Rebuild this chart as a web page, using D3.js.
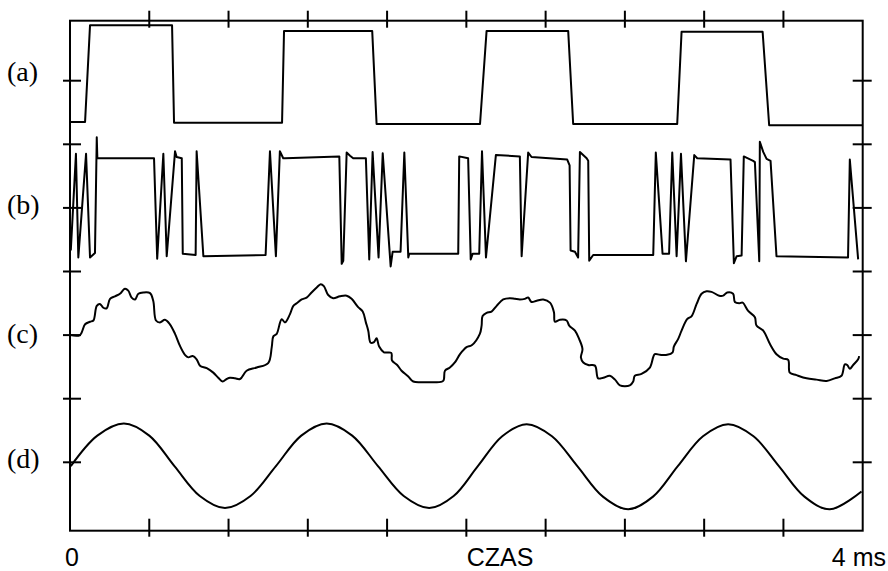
<!DOCTYPE html>
<html lang="pl">
<head>
    <meta charset="UTF-8">
    <title>Przebiegi (a)-(d)</title>
    <style>
        body {
            margin: 0;
            background: #fff;
        }

        .frame, .tick {
            stroke: #000;
            stroke-width: 2px;
            fill: none;
        }

        .trace {
            fill: none;
            stroke: #000;
            stroke-width: 2px;
            stroke-linejoin: round;
        }

        .chan {
            font: 28px "Liberation Serif", "Times New Roman", serif;
        }

        .xlab {
            font: 25px "Liberation Sans", Arial, sans-serif;
        }
    </style>
</head>
<body>
<div id="chart"></div>

<script src="https://d3js.org/d3.v7.min.js"></script>
<script>

    // time in ms, value in vertical divisions relative to each channel's zero line
    var channels = ["(a)", "(b)", "(c)", "(d)"]
    var xLabels = ["0", "CZAS", "4 ms"]

    var traceA = [
        [0, -0.65], [0.076, -0.65], [0.101, 0.87], [0.515, 0.87], [0.525, -0.66], [1.070, -0.66],
        [1.080, 0.78], [1.525, 0.78], [1.547, -0.68], [2.069, -0.68], [2.102, 0.78], [2.514, 0.78],
        [2.539, -0.68], [3.064, -0.68], [3.086, 0.77], [3.495, 0.77], [3.528, -0.70], [4.0, -0.70]
    ]

    var traceB = [
        [0.004, -0.67], [0.030, 0.85], [0.042, -0.78], [0.081, 0.85], [0.101, -0.78], [0.126, -0.71],
        [0.135, 1.11], [0.138, 0.78], [0.424, 0.78], [0.440, -0.80], [0.471, 0.85], [0.488, -0.76],
        [0.530, 0.89], [0.538, 0.80], [0.564, 0.78], [0.569, -0.72], [0.634, -0.74], [0.639, 0.89],
        [0.673, -0.76], [0.987, -0.74], [1.009, 0.89], [1.039, -0.76], [1.059, 0.89], [1.076, 0.78],
        [1.085, 0.78], [1.359, 0.81], [1.371, -0.88], [1.379, -0.83], [1.396, 0.87], [1.413, 0.82],
        [1.429, 0.78], [1.493, 0.78], [1.510, -0.81], [1.527, 0.88], [1.557, -0.78], [1.578, 0.86],
        [1.618, -0.92], [1.628, -0.69], [1.668, -0.69], [1.687, 0.87], [1.707, -0.78], [1.712, -0.72],
        [1.959, -0.72], [1.964, 0.81], [2.009, 0.78], [2.022, -0.81], [2.032, -0.72], [2.065, -0.72],
        [2.079, 0.89], [2.099, -0.78], [2.149, 0.83], [2.270, 0.81], [2.279, -0.76], [2.312, 0.87],
        [2.329, 0.80], [2.509, 0.76], [2.521, 0.67], [2.526, -0.67], [2.548, -0.69], [2.564, -0.78],
        [2.573, 0.88], [2.607, 0.78], [2.615, 0.74], [2.620, -0.83], [2.640, -0.74], [2.943, -0.74],
        [2.956, 0.87], [2.990, -0.72], [3.023, -0.72], [3.039, 0.87], [3.061, -0.76], [3.083, 0.85],
        [3.108, -0.84], [3.150, 0.83], [3.165, 0.78], [3.333, 0.76], [3.350, -0.87], [3.364, -0.76],
        [3.389, -0.75], [3.400, 0.81], [3.447, 0.74], [3.456, 0.72], [3.478, -0.84], [3.481, 1.04],
        [3.498, 0.88], [3.515, 0.77], [3.535, 0.74], [3.565, -0.76], [3.926, -0.78], [3.935, 0.76],
        [3.977, -0.81]
    ]

    var traceC = [
        [0.004, 0], [0.050, 0], [0.076, 0.17], [0.101, 0.21], [0.118, 0.23], [0.135, 0.46], [0.151, 0.49],
        [0.168, 0.43], [0.185, 0.42], [0.202, 0.57], [0.227, 0.61], [0.252, 0.65], [0.277, 0.73],
        [0.294, 0.70], [0.311, 0.59], [0.328, 0.56], [0.345, 0.65], [0.370, 0.67], [0.404, 0.66],
        [0.420, 0.54], [0.434, 0.23], [0.454, 0.20], [0.479, 0.24], [0.504, 0.17], [0.530, 0.02],
        [0.555, -0.17], [0.580, -0.31], [0.597, -0.35], [0.619, -0.33], [0.639, -0.38], [0.656, -0.48],
        [0.690, -0.52], [0.723, -0.59], [0.748, -0.67], [0.770, -0.73], [0.791, -0.69], [0.807, -0.67],
        [0.833, -0.68], [0.858, -0.69], [0.891, -0.56], [0.942, -0.51], [1.000, -0.44], [1.018, -0.19],
        [1.026, -0.02], [1.043, 0.02], [1.068, 0.25], [1.085, 0.20], [1.110, 0.33], [1.127, 0.46],
        [1.144, 0.50], [1.169, 0.56], [1.194, 0.59], [1.219, 0.67], [1.245, 0.75], [1.265, 0.80],
        [1.281, 0.77], [1.303, 0.63], [1.328, 0.58], [1.362, 0.61], [1.396, 0.62], [1.421, 0.57],
        [1.454, 0.44], [1.477, 0.37], [1.493, 0.20], [1.505, 0.07], [1.517, -0.12], [1.534, -0.11],
        [1.547, -0.05], [1.560, -0.18], [1.584, -0.27], [1.621, -0.28], [1.625, -0.40], [1.651, -0.47],
        [1.673, -0.56], [1.707, -0.65], [1.732, -0.73], [1.782, -0.74], [1.833, -0.74], [1.883, -0.72],
        [1.892, -0.56], [1.917, -0.51], [1.942, -0.43], [1.968, -0.30], [2.001, -0.19], [2.027, -0.16],
        [2.068, 0.02], [2.077, 0.15], [2.082, 0.30], [2.102, 0.35], [2.127, 0.37], [2.153, 0.46],
        [2.186, 0.56], [2.220, 0.58], [2.245, 0.57], [2.270, 0.56], [2.295, 0.57], [2.312, 0.59],
        [2.329, 0.52], [2.355, 0.54], [2.388, 0.56], [2.422, 0.51], [2.442, 0.36], [2.447, 0.21],
        [2.472, 0.24], [2.506, 0.23], [2.519, 0.15], [2.548, 0.07], [2.569, -0.06], [2.586, -0.22],
        [2.578, -0.35], [2.590, -0.43], [2.615, -0.47], [2.649, -0.48], [2.665, -0.68], [2.691, -0.67],
        [2.724, -0.64], [2.750, -0.70], [2.775, -0.79], [2.825, -0.79], [2.842, -0.73], [2.850, -0.64],
        [2.884, -0.61], [2.926, -0.51], [2.951, -0.30], [2.977, -0.31], [3.013, -0.31], [3.041, -0.27],
        [3.047, -0.18], [3.069, -0.06], [3.086, 0.07], [3.114, 0.25], [3.137, 0.30], [3.162, 0.49],
        [3.187, 0.65], [3.212, 0.69], [3.237, 0.68], [3.276, 0.62], [3.296, 0.62], [3.316, 0.67],
        [3.346, 0.65], [3.355, 0.52], [3.377, 0.50], [3.394, 0.51], [3.422, 0.38], [3.456, 0.28],
        [3.464, 0.15], [3.498, 0.07], [3.532, -0.14], [3.565, -0.30], [3.599, -0.37], [3.624, -0.39],
        [3.632, -0.59], [3.666, -0.63], [3.717, -0.68], [3.767, -0.70], [3.818, -0.72], [3.859, -0.68],
        [3.893, -0.64], [3.910, -0.46], [3.922, -0.47], [3.935, -0.53], [3.952, -0.47], [3.977, -0.38],
        [3.982, -0.33]
    ]

    var traceD = [
        [0.004, -0.06], [0.138, 0.42], [0.272, 0.61], [0.400, 0.42], [0.527, -0.06], [0.655, -0.53],
        [0.782, -0.72], [0.911, -0.53], [1.039, -0.06], [1.167, 0.42], [1.295, 0.61], [1.424, 0.42],
        [1.554, -0.06], [1.684, -0.53], [1.813, -0.72], [1.936, -0.53], [2.058, -0.06], [2.181, 0.41],
        [2.304, 0.60], [2.432, 0.41], [2.560, -0.06], [2.689, -0.54], [2.817, -0.74], [2.942, -0.54],
        [3.067, -0.06], [3.194, 0.41], [3.321, 0.60], [3.449, 0.41], [3.577, -0.06], [3.706, -0.54],
        [3.834, -0.74], [3.994, -0.46]
    ]

    var traces = [traceA, traceB, traceC, traceD]

    var width = 888, height = 571
    var plotL = 70, plotR = 862.7, plotT = 20.7, plotB = 530.7
    var zeroDiv = [1, 3, 5, 7]

    var svg = d3.select("#chart").append("svg")
        .attr("width", width)
        .attr("height", height)

    var x = d3.scaleLinear().domain([0, 4]).range([plotL, plotR])
    var y = d3.scaleLinear().domain([0, 8]).range([17.1, 525.9])

    svg.append("rect")
        .attr("class", "frame")
        .attr("x", plotL)
        .attr("y", plotT)
        .attr("width", plotR - plotL)
        .attr("height", plotB - plotT)

    var xt = d3.range(1, 10).map(function (k) { return k * 0.4 })
    var yt = d3.range(1, 8)

    // crossing ticks on all four sides
    svg.selectAll(".ttop").data(xt).enter().append("line")
        .attr("class", "tick")
        .attr("x1", function (d) { return x(d) }).attr("x2", function (d) { return x(d) })
        .attr("y1", plotT - 10).attr("y2", plotT + 7)
    svg.selectAll(".tbot").data(xt).enter().append("line")
        .attr("class", "tick")
        .attr("x1", function (d) { return x(d) }).attr("x2", function (d) { return x(d) })
        .attr("y1", plotB - 12).attr("y2", plotB + 6)
    svg.selectAll(".tleft").data(yt).enter().append("line")
        .attr("class", "tick")
        .attr("x1", plotL - 7).attr("x2", plotL + 11)
        .attr("y1", function (d) { return y(d) }).attr("y2", function (d) { return y(d) })
    svg.selectAll(".tright").data(yt).enter().append("line")
        .attr("class", "tick")
        .attr("x1", plotR - 10).attr("x2", plotR + 9)
        .attr("y1", function (d) { return y(d) }).attr("y2", function (d) { return y(d) })

    traces.forEach(function (tr, i) {
        var line = d3.line()
            .x(function (d) { return x(d[0]) })
            .y(function (d) { return y(zeroDiv[i] - d[1]) })
        if (i >= 2) line.curve(d3.curveCatmullRom.alpha(0.5))
        svg.append("path")
            .datum(tr)
            .attr("class", "trace")
            .attr("d", line)
    })

    var labelY = [-6.5, -6, -7.5, -6]
    svg.selectAll(".chan").data(channels).enter().append("text")
        .attr("class", "chan")
        .attr("x", 7)
        .attr("y", function (d, i) { return y(zeroDiv[i]) - labelY[i] + (i === 0 ? -6 : 0) })
        .text(function (d) { return d })

    svg.append("text").attr("class", "xlab")
        .attr("x", x(0) + 2).attr("y", 566).attr("text-anchor", "middle").text(xLabels[0])
    svg.append("text").attr("class", "xlab")
        .attr("x", 500).attr("y", 566).attr("text-anchor", "middle").text(xLabels[1])
    svg.append("text").attr("class", "xlab")
        .attr("x", 886).attr("y", 566).attr("text-anchor", "end").text(xLabels[2])

</script>
</body>
</html>
